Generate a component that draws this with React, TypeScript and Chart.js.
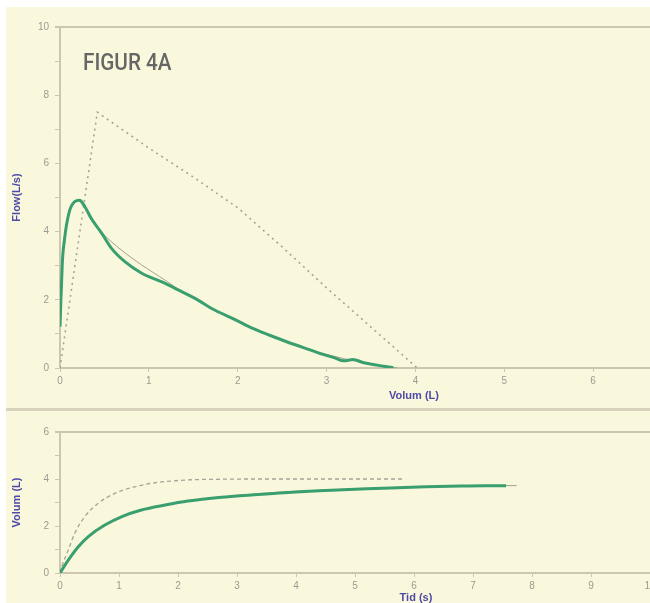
import React, { useEffect, useRef } from "react";
import { Chart, registerables } from "chart.js";

Chart.register(...registerables);

// ---------- DATA ----------
// Top chart: flow (L/s) vs volume (L)
const measuredVolume = [0, 0.01, 0.02, 0.03, 0.05, 0.07, 0.11, 0.165, 0.22, 0.28, 0.35, 0.47, 0.58, 0.73, 0.92, 1.14, 1.33, 1.52, 1.74, 1.97, 2.17, 2.36, 2.55, 2.74, 2.92, 3.1, 3.19, 3.3, 3.4, 3.49, 3.6, 3.68, 3.75];
const measuredFlow = [1.21, 2.0, 2.68, 3.26, 3.75, 4.14, 4.63, 4.88, 4.92, 4.73, 4.39, 3.95, 3.51, 3.12, 2.78, 2.53, 2.29, 2.04, 1.7, 1.42, 1.16, 0.96, 0.77, 0.6, 0.43, 0.29, 0.21, 0.25, 0.17, 0.12, 0.07, 0.04, 0.01];

const fittedVolume = [0, 0.03, 0.1, 0.2, 0.28, 0.47, 0.69, 0.92, 1.18, 1.4, 1.8, 2.2, 2.6, 3.0, 3.4, 3.8];
const fittedFlow = [1.2, 3.3, 4.6, 4.9, 4.72, 3.98, 3.46, 3.02, 2.58, 2.2, 1.62, 1.12, 0.72, 0.4, 0.16, 0.0];

const predictedVolume = [0, 0.42, 1.0, 1.5, 2.0, 2.5, 3.0, 3.5, 4.02];
const predictedFlow = [0, 7.5, 6.45, 5.6, 4.7, 3.55, 2.35, 1.2, 0];

const topXTicks = [0, 1, 2, 3, 4, 5, 6];
const topYTicks = [0, 1, 2, 3, 4, 5, 6, 7, 8, 9, 10];

// Bottom chart: volume (L) vs time (s)
const measuredTime = [0, 0.14, 0.31, 0.48, 0.76, 1.05, 1.38, 1.78, 2.17, 2.74, 3.25, 3.8, 4.4, 5.0, 5.6, 6.2, 6.8, 7.2, 7.56];
const measuredVol = [0, 0.55, 1.12, 1.55, 2.04, 2.4, 2.68, 2.89, 3.06, 3.22, 3.32, 3.42, 3.5, 3.56, 3.62, 3.67, 3.7, 3.71, 3.71];

const fittedTime = [0, 0.3, 0.7, 1.1, 1.6, 2.2, 3.0, 4.0, 5.0, 6.0, 7.0, 7.5, 7.74];
const fittedVol = [0, 1.1, 1.95, 2.45, 2.8, 3.08, 3.3, 3.48, 3.58, 3.65, 3.7, 3.72, 3.72];

const predictedTime = [0, 0.03, 0.14, 0.25, 0.42, 0.65, 0.93, 1.27, 1.61, 2.17, 2.7, 3.25, 4.0, 5.0, 5.82];
const predictedVol = [0, 0.27, 0.98, 1.69, 2.4, 2.97, 3.39, 3.67, 3.84, 3.96, 3.99, 4.0, 4.0, 4.0, 4.0];

const bottomXTicks = [0, 1, 2, 3, 4, 5, 6, 7, 8, 9, 10];
const bottomYTicks = [0, 1, 2, 3, 4, 5, 6];

// ---------- STYLE ----------
const BG = "#faf8dc";
const AXIS = "#cdc7b2";
const TICK_TEXT = "#9c9a92";
const TITLE = "#4e4aa8";
const GREEN = "#3a9f6e";
const GRAY = "#a49e92";
const DOTTED = "#a8a298";
const FONT = "'Liberation Sans', Arial, sans-serif";

const pts = (xs: number[], ys: number[]) => xs.map((x, i) => ({ x, y: ys[i] }));

type TextItem = { text: string; x: number; y: number; font: string; color: string; sx?: number; align?: CanvasTextAlign };

const textPlugin = (items: TextItem[]) => ({
  id: "customText",
  afterDraw(chart: any) {
    const ctx = chart.ctx;
    items.forEach((it) => {
      ctx.save();
      ctx.font = it.font;
      ctx.fillStyle = it.color;
      ctx.textAlign = it.align || "center";
      ctx.textBaseline = "alphabetic";
      ctx.translate(it.x, it.y);
      ctx.scale(it.sx || 1, 1);
      ctx.fillText(it.text, 0, 0);
      ctx.restore();
    });
  },
});

function buildOptions(p: {
  xMax: number; yMax: number; xTicks: number[]; yTicks: number[];
  xHeight: number; yTitle: string;
}) {
  return {
    responsive: false,
    animation: false as const,
    layout: { padding: { top: 20, left: 0, right: 0, bottom: 0 }, autoPadding: false },
    plugins: { legend: { display: false }, tooltip: { enabled: false } },
    elements: { point: { radius: 0 } },
    scales: {
      x: {
        type: "linear" as const,
        min: 0,
        max: p.xMax,
        afterBuildTicks: (s: any) => { s.ticks = p.xTicks.map((v) => ({ value: v })); },
        afterFit: (s: any) => { s.height = p.xHeight; s.paddingLeft = 0; s.paddingRight = 0; },
        grid: { drawOnChartArea: false, drawTicks: true, tickLength: 4, tickColor: AXIS, color: AXIS, lineWidth: 1 },
        border: { display: true, color: AXIS, width: 2 },
        ticks: { color: TICK_TEXT, font: { size: 10, family: FONT }, padding: 3, maxRotation: 0, autoSkip: false, callback: (v: any) => String(v) },
      },
      y: {
        type: "linear" as const,
        min: 0,
        max: p.yMax,
        afterBuildTicks: (s: any) => { s.ticks = p.yTicks.map((v) => ({ value: v })); },
        afterFit: (s: any) => { s.width = 60; s.paddingTop = 0; s.paddingBottom = 0; },
        grid: {
          drawOnChartArea: true,
          drawTicks: true,
          tickLength: 5,
          tickColor: AXIS,
          color: (c: any) => (c.tick && c.tick.value === p.yMax ? AXIS : "rgba(0,0,0,0)"),
          lineWidth: (c: any) => (c.tick && c.tick.value === p.yMax ? 2 : 1),
        },
        border: { display: true, color: AXIS, width: 2 },
        ticks: {
          color: TICK_TEXT,
          font: { size: 10, family: FONT },
          padding: 6,
          callback: (v: any) => (Number(v) % 2 === 0 ? String(v) : ""),
        },
        title: { display: true, text: p.yTitle, color: TITLE, font: { size: 11, weight: "bold" as const, family: FONT }, padding: { top: 10, bottom: 0 } },
      },
    },
  };
}

export default function App() {
  const topRef = useRef<HTMLCanvasElement>(null);
  const bottomRef = useRef<HTMLCanvasElement>(null);

  useEffect(() => {
    const top = new Chart(topRef.current!, {
      type: "line",
      data: {
        datasets: [
          { data: pts(measuredVolume, measuredFlow), borderColor: GREEN, borderWidth: 3, cubicInterpolationMode: "monotone", order: 1 },
          { data: pts(fittedVolume, fittedFlow), borderColor: GRAY, borderWidth: 1, tension: 0.3, order: 2 },
          { data: pts(predictedVolume, predictedFlow), borderColor: DOTTED, borderWidth: 1.6, borderDash: [2, 4], tension: 0, order: 3 },
        ],
      } as any,
      options: buildOptions({ xMax: 6.64, yMax: 10, xTicks: topXTicks, yTicks: topYTicks, xHeight: 37, yTitle: "Flow(L/s)" }) as any,
      plugins: [
        textPlugin([
          { text: "FIGUR 4A", x: 83, y: 63, font: `500 23px Roboto, sans-serif`, color: "#666666", sx: 0.9, align: "left" },
          { text: "Volum (L)", x: 414, y: 392, font: `bold 11px ${FONT}`, color: TITLE },
        ]),
      ],
    });

    const bottom = new Chart(bottomRef.current!, {
      type: "line",
      data: {
        datasets: [
          { data: pts(measuredTime, measuredVol), borderColor: GREEN, borderWidth: 3, cubicInterpolationMode: "monotone", order: 1 },
          { data: pts(fittedTime, fittedVol), borderColor: GRAY, borderWidth: 1, cubicInterpolationMode: "monotone", order: 2 },
          { data: pts(predictedTime, predictedVol), borderColor: DOTTED, borderWidth: 1.3, borderDash: [4, 3], cubicInterpolationMode: "monotone", order: 3 },
        ],
      } as any,
      options: buildOptions({ xMax: 10, yMax: 6, xTicks: bottomXTicks, yTicks: bottomYTicks, xHeight: 30, yTitle: "Volum (L)" }) as any,
      plugins: [
        textPlugin([
          { text: "Tid (s)", x: 416, y: 189, font: `bold 11px ${FONT}`, color: TITLE },
        ]),
      ],
    });

    return () => {
      top.destroy();
      bottom.destroy();
    };
  }, []);

  return (
    <div style={{ position: "absolute", left: 0, top: 0, width: 650, height: 603, background: "#ffffff", overflow: "hidden" }}>
      <div style={{ position: "absolute", left: 6, top: 7, right: 0, bottom: 0, background: BG }} />
      <div style={{ position: "absolute", left: 6, top: 408, width: 644, height: 3, background: "#d8d1bb" }} />
      <canvas ref={topRef} width={650} height={398} style={{ position: "absolute", left: 0, top: 7, display: "block" }} />
      <canvas ref={bottomRef} width={650} height={191} style={{ position: "absolute", left: 0, top: 412, display: "block" }} />
    </div>
  );
}
